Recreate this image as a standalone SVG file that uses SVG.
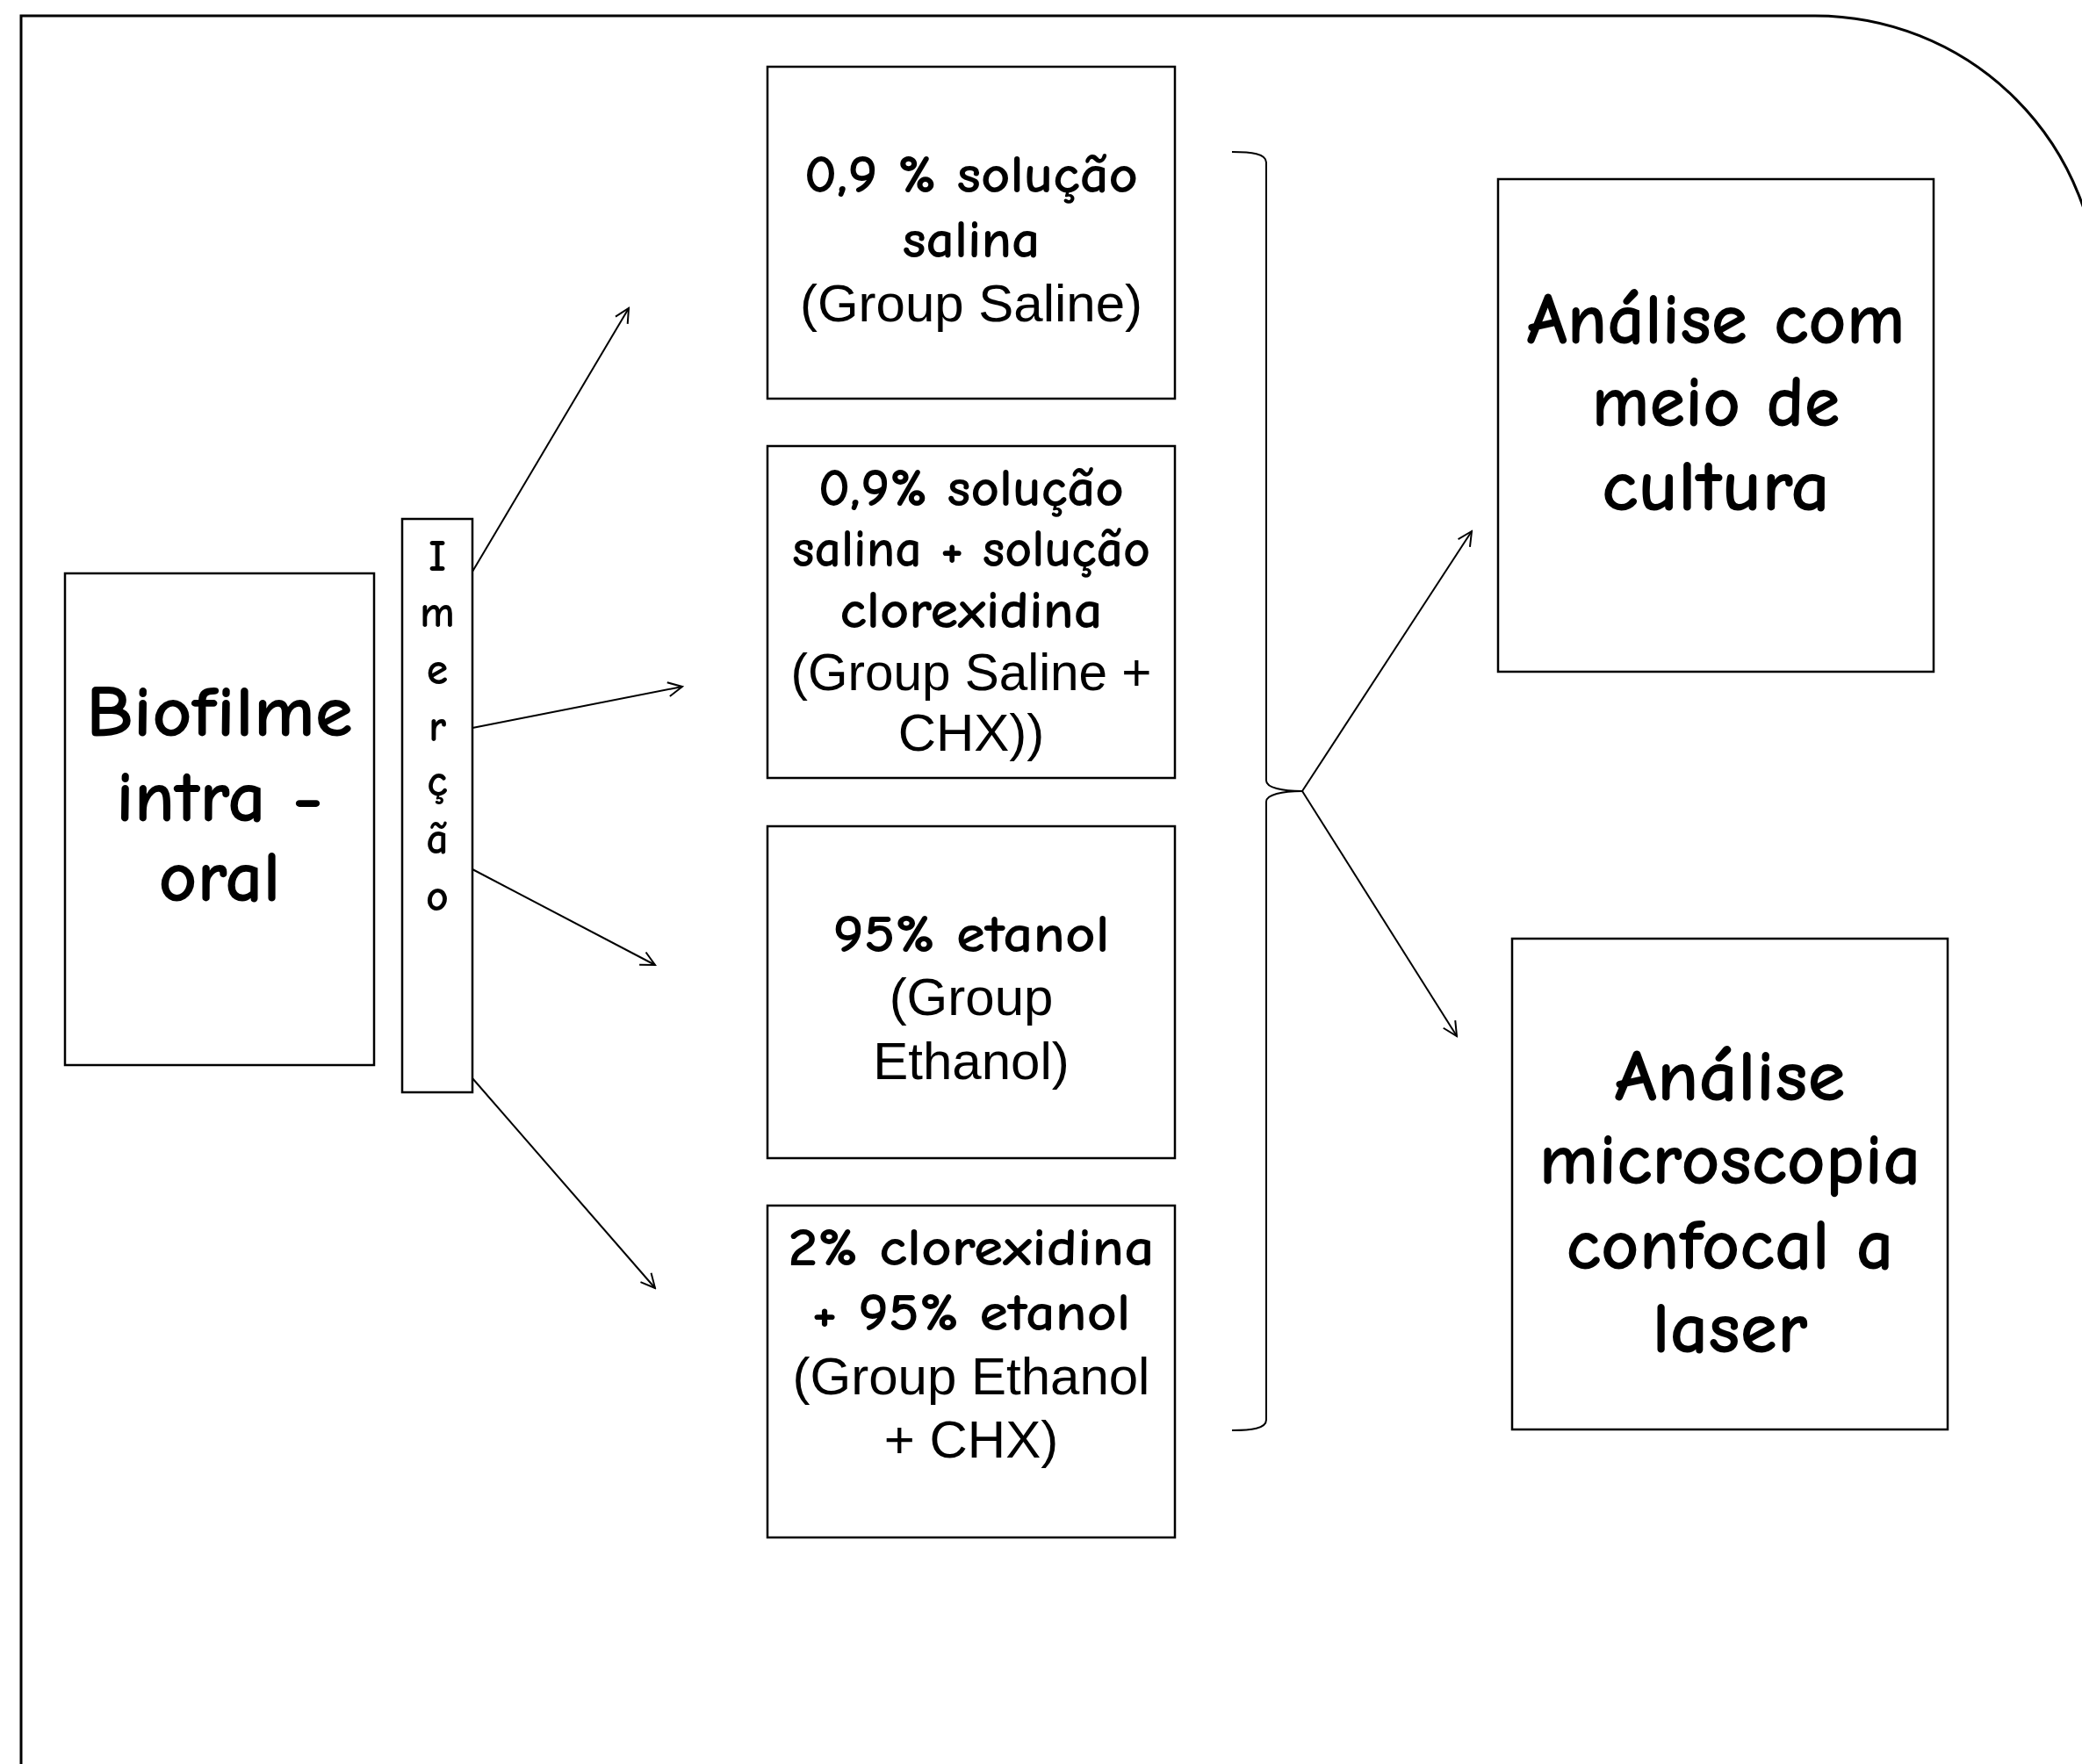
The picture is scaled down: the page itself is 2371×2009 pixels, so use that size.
<svg xmlns="http://www.w3.org/2000/svg" width="2371" height="2009" viewBox="0 0 2371 2009">
<style>
.box{fill:#fff;stroke:#000;stroke-width:2.5}
.frame{fill:none;stroke:#000;stroke-width:3}
.conn{fill:none;stroke:#000;stroke-width:2}
.cs{font-family:"Comic Sans MS","Comic Neue","DejaVu Sans",sans-serif;font-weight:bold;fill:#000;text-anchor:middle}
.ar{font-family:"Liberation Sans",Arial,sans-serif;fill:#000;text-anchor:middle;font-size:60px}
.m{font-size:60px}
.l{font-size:82px}
.v{font-size:50px}
</style>
<defs>
<marker id="arr" viewBox="0 0 20 20" refX="18" refY="10" markerWidth="20" markerHeight="20" markerUnits="userSpaceOnUse" orient="auto">
<path d="M2,2 L18,10 L2,18" fill="none" stroke="#000" stroke-width="2"/>
</marker>
</defs>
<rect width="2371" height="2009" fill="#fff"/>
<path class="frame" d="M24,2009 V18 H2067 A323,323 0 0 1 2390,341"/>

<g id="biofilme">
<rect class="box" x="74" y="653" width="352" height="560"/>
<text class="cs l" x="250" y="838" textLength="304" lengthAdjust="spacingAndGlyphs">Biofilme</text>
<text class="cs l" x="250" y="935" textLength="236" lengthAdjust="spacingAndGlyphs">intra -</text>
<text class="cs l" x="250" y="1026" textLength="139" lengthAdjust="spacingAndGlyphs">oral</text>
</g>

<g id="imercao">
<rect class="box" x="458" y="591" width="80" height="653"/>
<text class="cs v" x="498" y="650">I</text>
<text class="cs v" x="498" y="714">m</text>
<text class="cs v" x="498" y="779">e</text>
<text class="cs v" x="498" y="844">r</text>
<text class="cs v" x="498" y="906">ç</text>
<text class="cs v" x="498" y="972">ã</text>
<text class="cs v" x="498" y="1037">o</text>
</g>

<g id="saline">
<rect class="box" x="874" y="76" width="464" height="378"/>
<text class="cs m" x="1106" y="219" textLength="380" lengthAdjust="spacingAndGlyphs">0,9 % solução</text>
<text class="cs m" x="1106" y="293" textLength="157" lengthAdjust="spacingAndGlyphs">salina</text>
<text class="ar" x="1106" y="366">(Group Saline)</text>
</g>

<g id="saline-chx">
<rect class="box" x="874" y="508" width="464" height="378"/>
<text class="cs m" x="1106" y="576" textLength="348" lengthAdjust="spacingAndGlyphs">0,9% solução</text>
<text class="cs m" x="1106" y="645" textLength="408" lengthAdjust="spacingAndGlyphs">salina + solução</text>
<text class="cs m" x="1106" y="715" textLength="299" lengthAdjust="spacingAndGlyphs">clorexidina</text>
<text class="ar" x="1106" y="786" textLength="411" lengthAdjust="spacingAndGlyphs">(Group Saline +</text>
<text class="ar" x="1106" y="855">CHX))</text>
</g>

<g id="ethanol">
<rect class="box" x="874" y="941" width="464" height="378"/>
<text class="cs m" x="1106" y="1084" textLength="315" lengthAdjust="spacingAndGlyphs">95% etanol</text>
<text class="ar" x="1106" y="1156">(Group</text>
<text class="ar" x="1106" y="1229">Ethanol)</text>
</g>

<g id="ethanol-chx">
<rect class="box" x="874" y="1373" width="464" height="378"/>
<text class="cs m" x="1106" y="1441" textLength="417" lengthAdjust="spacingAndGlyphs">2% clorexidina</text>
<text class="cs m" x="1106" y="1515" textLength="363" lengthAdjust="spacingAndGlyphs">+ 95% etanol</text>
<text class="ar" x="1106" y="1588">(Group Ethanol</text>
<text class="ar" x="1106" y="1660">+ CHX)</text>
</g>

<g id="cultura">
<rect class="box" x="1706" y="204" width="496" height="561"/>
<text class="cs l" x="1954" y="391" textLength="431" lengthAdjust="spacingAndGlyphs">Análise com</text>
<text class="cs l" x="1954" y="485" textLength="283" lengthAdjust="spacingAndGlyphs">meio de</text>
<text class="cs l" x="1954" y="581" textLength="260" lengthAdjust="spacingAndGlyphs">cultura</text>
</g>

<g id="confocal">
<rect class="box" x="1722" y="1069" width="496" height="559"/>
<text class="cs l" x="1970" y="1253" textLength="263" lengthAdjust="spacingAndGlyphs">Análise</text>
<text class="cs l" x="1970" y="1348" textLength="435" lengthAdjust="spacingAndGlyphs">microscopia</text>
<text class="cs l" x="1970" y="1445" textLength="373" lengthAdjust="spacingAndGlyphs">confocal a</text>
<text class="cs l" x="1970" y="1540" textLength="177" lengthAdjust="spacingAndGlyphs">laser</text>
</g>

<g id="connectors">
<line class="conn" x1="538" y1="651" x2="716" y2="351" marker-end="url(#arr)"/>
<line class="conn" x1="538" y1="829" x2="777" y2="782" marker-end="url(#arr)"/>
<line class="conn" x1="538" y1="990" x2="746" y2="1099" marker-end="url(#arr)"/>
<line class="conn" x1="538" y1="1228" x2="746" y2="1467" marker-end="url(#arr)"/>
<path class="conn" stroke-width="2.5" d="M1403,173 C1425,173 1442,175 1442,185 V889 C1442,897 1460,901 1483,901 C1460,901 1442,905 1442,913 V1617 C1442,1627 1425,1629 1403,1629"/>
<line class="conn" x1="1483" y1="901" x2="1676" y2="605" marker-end="url(#arr)"/>
<line class="conn" x1="1483" y1="901" x2="1659" y2="1180" marker-end="url(#arr)"/>
</g>
</svg>
